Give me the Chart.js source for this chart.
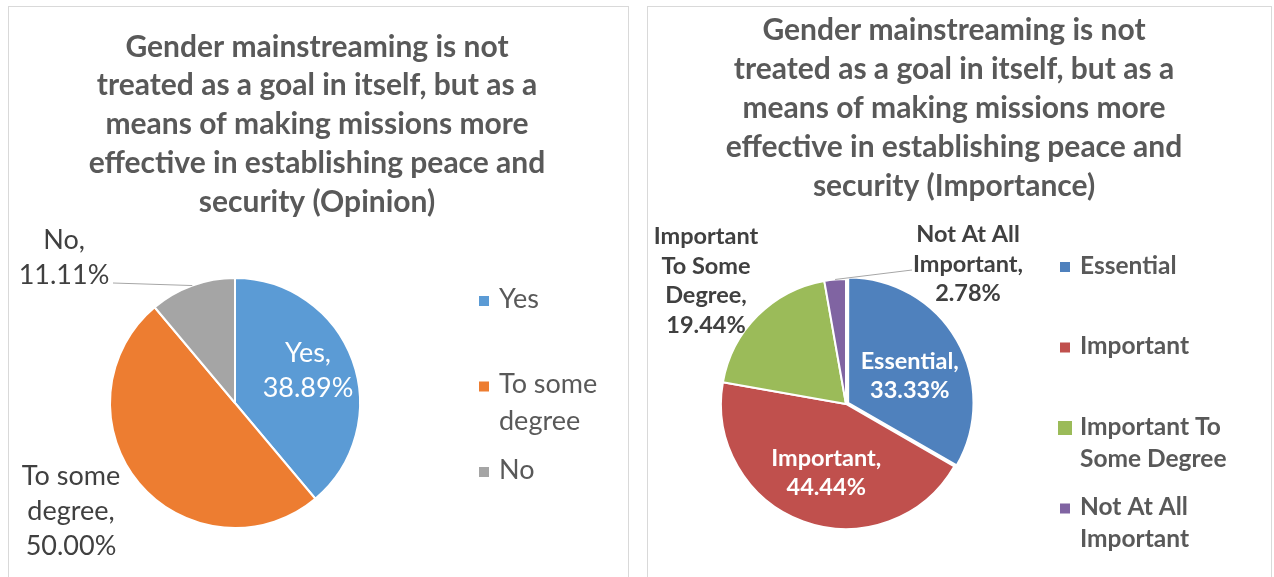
<!DOCTYPE html>
<html>
<head>
<meta charset="utf-8">
<title>Gender mainstreaming</title>
<script src="https://cdn.jsdelivr.net/npm/chart.js@4.4.1/dist/chart.umd.min.js"></script>
<style>
  body { margin: 0; background: #fff; }
  .panel { position: absolute; top: 6px; height: 580px; border: 1px solid #d9d9d9; background: #fff; }
  #opinionPanel { left: 8px; width: 619px; }
  #importancePanel { left: 647px; width: 623px; }
  canvas { display: block; }
</style>
</head>
<body>
<div class="panel" id="opinionPanel"><canvas id="opinionChart" width="619" height="570"></canvas></div>
<div class="panel" id="importancePanel"><canvas id="importanceChart" width="623" height="570"></canvas></div>
<script>
const opinionLabels = ['Yes', 'To some degree', 'No'];
const opinionValues = [38.89, 50.00, 11.11];
const opinionColors = ['#5b9bd5', '#ed7d31', '#a5a5a5'];
const opinionTitle = [
	'Gender mainstreaming is not',
	'treated as a goal in itself, but as a',
	'means of making missions more',
	'effective in establishing peace and',
	'security (Opinion)'
];

const importanceLabels = ['Essential', 'Important', 'Important To Some Degree', 'Not At All Important'];
const importanceValues = [33.33, 44.44, 19.44, 2.78];
const importanceColors = ['#4f81bd', '#c0504d', '#9bbb59', '#8064a2'];
const importanceTitle = [
	'Gender mainstreaming is not',
	'treated as a goal in itself, but as a',
	'means of making missions more',
	'effective in establishing peace and',
	'security (Importance)'
];

function wrapText(ctx, text, maxWidth) {
	const words = text.split(' ');
	const lines = [];
	let cur = '';
	words.forEach(w => {
		const test = cur ? cur + ' ' + w : w;
		if (cur && ctx.measureText(test).width > maxWidth) {
			lines.push(cur);
			cur = w;
		} else {
			cur = test;
		}
	});
	lines.push(cur);
	return lines;
}

// title, legend and slice labels drawn over the pie
const pieText = {
	id: 'pieText',
	afterDatasetsDraw(chart, args, o) {
		const ctx = chart.ctx;
		const meta = chart.getDatasetMeta(0);
		const labels = chart.data.labels;
		const values = chart.data.datasets[0].data;
		const colors = chart.data.datasets[0].backgroundColor;

		ctx.save();
		ctx.textBaseline = 'middle';

		// title
		ctx.textAlign = 'center';
		ctx.font = o.title.font;
		ctx.fillStyle = o.title.color;
		o.title.text.forEach((line, i) => {
			ctx.fillText(line, o.title.x, o.title.y + i * o.title.lineHeight);
		});

		// legend
		const lg = o.legend;
		ctx.textAlign = 'left';
		ctx.font = lg.font;
		labels.forEach((label, i) => {
			const y = lg.y + i * lg.step;
			const s = lg.markerSizes ? lg.markerSizes[i] : lg.marker;
			ctx.fillStyle = colors[i];
			ctx.fillRect(lg.markerX + (lg.marker - s) / 2, y + lg.markerDy - s / 2, s, s);
			ctx.fillStyle = lg.color;
			wrapText(ctx, label, lg.maxWidth).forEach((line, j) => {
				ctx.fillText(line, lg.textX, y + j * lg.lineHeight);
			});
		});

		// data labels
		ctx.textAlign = 'center';
		ctx.font = o.labelFont;
		meta.data.forEach((arc, i) => {
			const spec = o.slices[i];
			const p = arc.getProps(['x', 'y', 'startAngle', 'endAngle', 'outerRadius'], true);
			const mid = (p.startAngle + p.endAngle) / 2;
			const off = arc.options.offset || 0;
			const lines = wrapText(ctx, labels[i] + ',', o.labelWidth).concat(values[i].toFixed(2) + '%');
			let cx, cy;
			if (spec.inside) {
				const d = p.outerRadius * spec.f + off;
				cx = p.x + Math.cos(mid) * d + spec.dx;
				cy = p.y + Math.sin(mid) * d + spec.dy;
				ctx.fillStyle = '#fff';
			} else {
				cx = spec.x;
				cy = spec.y;
				if (spec.leader) {
					ctx.strokeStyle = '#a6a6a6';
					ctx.lineWidth = 1;
					ctx.beginPath();
					ctx.moveTo(p.x + Math.cos(mid) * p.outerRadius, p.y + Math.sin(mid) * p.outerRadius);
					ctx.lineTo(spec.leader[0], spec.leader[1]);
					ctx.stroke();
				}
				ctx.fillStyle = o.labelColor;
			}
			const top = cy - (lines.length - 1) * o.lineHeight / 2;
			lines.forEach((line, j) => ctx.fillText(line, cx, top + j * o.lineHeight));
		});
		ctx.restore();
	}
};

function pieChart(id, labels, values, colors, offsets, padding, text) {
	return new Chart(document.getElementById(id), {
		type: 'pie',
		data: {
			labels: labels,
			datasets: [{
				data: values,
				backgroundColor: colors,
				borderColor: '#fff',
				borderWidth: 2,
				offset: offsets,
				hoverOffset: 0,
				radius: 125
			}]
		},
		options: {
			responsive: false,
			animation: false,
			events: [],
			layout: { padding: padding },
			plugins: {
				legend: { display: false },
				tooltip: { enabled: false },
				pieText: text
			}
		},
		plugins: [pieText]
	});
}

pieChart('opinionChart', opinionLabels, opinionValues, opinionColors, [0, 0, 0],
	{ left: 0, right: 167, top: 222, bottom: 0 },
	{
		title: { text: opinionTitle, font: 'bold 30px Lato', color: '#595959', x: 308, y: 40, lineHeight: 38.8 },
		legend: { font: '27px Lato', color: '#595959', markerX: 470, textX: 490, y: 292, step: 85.5, lineHeight: 37, marker: 10, markerDy: 2, maxWidth: 125 },
		labelFont: '27px Lato',
		labelColor: '#404040',
		labelWidth: 112,
		lineHeight: 35,
		slices: [
			{ inside: true, f: 0.63, dx: -1, dy: -5 },
			{ x: 62, y: 504 },
			{ x: 55, y: 251, leader: [104, 276] }
		]
	});

pieChart('importanceChart', importanceLabels, importanceValues, importanceColors, [10, 0, 0, 0],
	{ left: 0, right: 227, top: 224, bottom: 0 },
	{
		title: { text: importanceTitle, font: 'bold 30px Lato', color: '#595959', x: 306, y: 23, lineHeight: 39 },
		legend: { font: 'bold 24.5px Lato', color: '#595959', markerX: 412, textX: 432, y: 259, step: 80.5, lineHeight: 32, marker: 10, markerSizes: [10, 10, 14, 10], markerDy: 1, maxWidth: 165 },
		labelFont: 'bold 23.5px Lato',
		labelColor: '#404040',
		labelWidth: 118,
		lineHeight: 29.5,
		slices: [
			{ inside: true, f: 0.5, dx: 1, dy: 8 },
			{ inside: true, f: 0.58, dx: 5, dy: 1 },
			{ x: 58, y: 274 },
			{ x: 320, y: 257, leader: [264, 263] }
		]
	});
</script>
</body>
</html>
